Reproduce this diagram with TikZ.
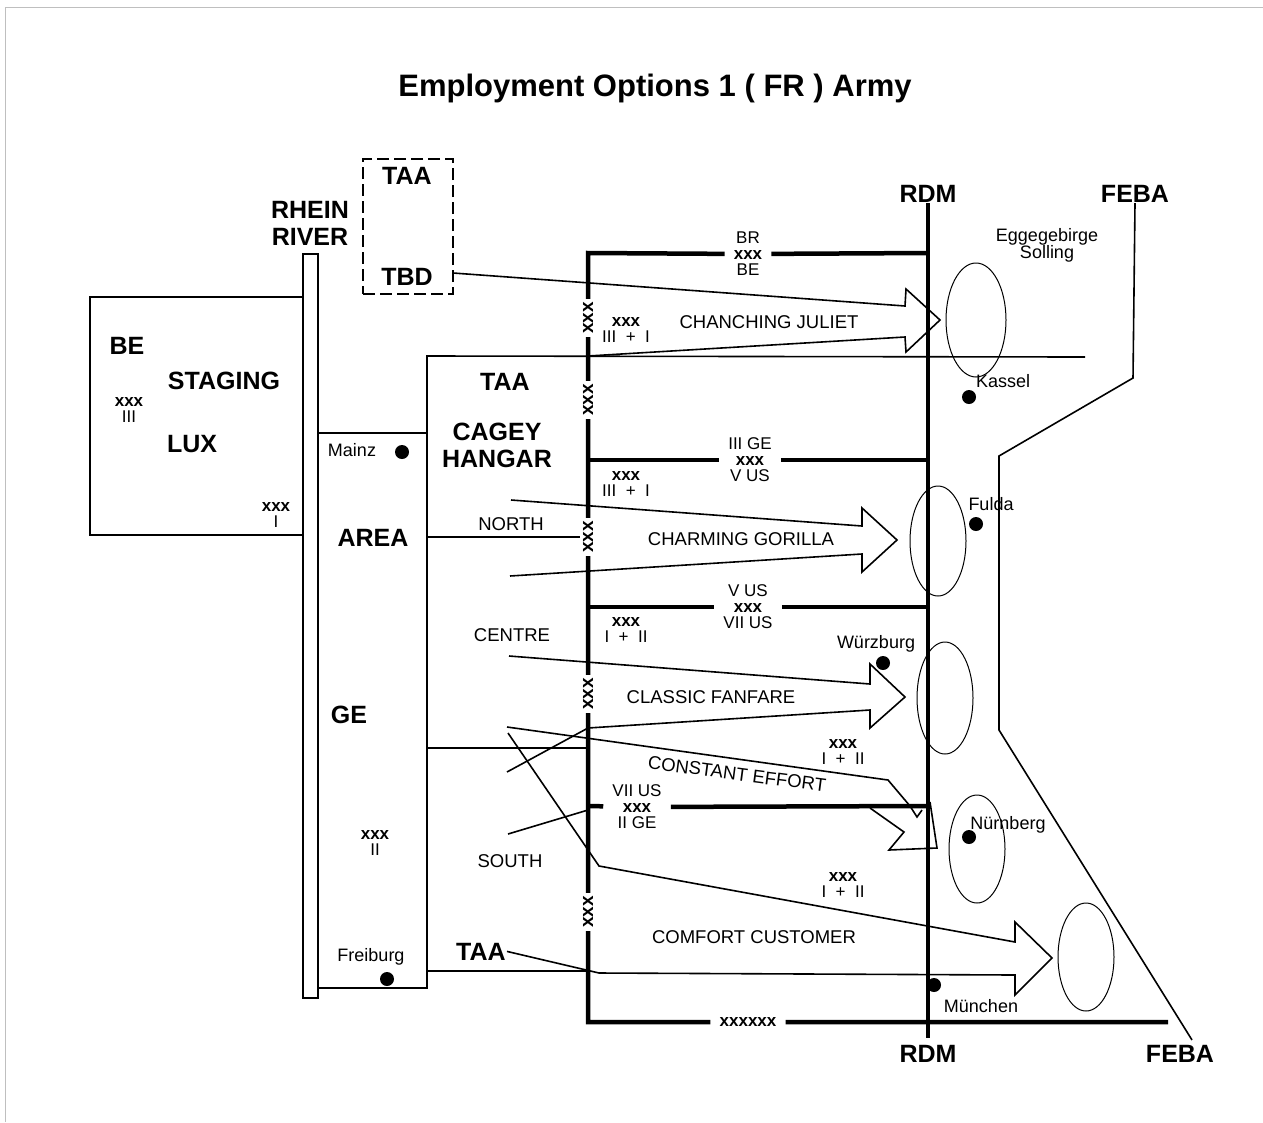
\documentclass[tikz,border=0pt]{standalone}
\usepackage{fontspec}
\setmainfont{Liberation Sans}
\usepackage{tikz}

\begin{document}
\begin{tikzpicture}[x=1pt,y=-1pt,
    every node/.style={inner sep=1pt},
    headline/.style={font=\fontsize{31}{33}\selectfont\bfseries},
    bigtxt/.style={font=\fontsize{25}{27}\selectfont\bfseries,align=center},
    lbl/.style={font=\fontsize{18.5}{20}\selectfont},
    town/.style={font=\fontsize{18}{17}\selectfont,align=center},
    corps/.style={font=\fontsize{17}{16}\selectfont,align=center,inner sep=0pt},
    bound/.style={corps,inner xsep=9pt,inner ysep=0pt},
    xmark/.style={font=\fontsize{19}{19}\selectfont\bfseries,rotate=90,inner sep=3pt},
    front/.style={line width=4.5pt},
    thinl/.style={line width=1.6pt},
    ring/.style={line width=1pt},
    dot/.style={circle,fill,inner sep=0pt,minimum size=14pt}]
  \useasboundingbox (0,0) rectangle (1263,1122);
  \draw[gray!50,line width=1pt] (5,1122) -- (5,7) -- (1263,7);

  \node[headline,anchor=base] (title) at (655,96) {Employment Options 1 ( FR ) Army};

  % rear area
  \node[bigtxt] (rhein) at (310,223) {RHEIN\\RIVER};
  \node[draw,thinl,dash pattern=on 12pt off 5pt,minimum width=90pt,minimum height=135pt] (taabox) at (408,226.5) {};
  \node[bigtxt,anchor=base] (taa1) at (407,184) {TAA};
  \node[bigtxt,anchor=base] (tbd) at (407,285) {TBD};
  \node[bigtxt,anchor=base] (be) at (127,354) {BE};
  \node[bigtxt,anchor=base] (staging) at (224,389) {STAGING};
  \node[bigtxt,anchor=base] (lux) at (192,452) {LUX};
  \node[corps] (c3be) at (129,410) {\textbf{xxx}\\III};
  \node[corps] (c1be) at (276,515) {\textbf{xxx}\\I};
  \node[bigtxt,anchor=base] (area) at (373,546) {AREA};
  \node[bigtxt,anchor=base] (ge) at (349,723) {GE};
  \node[corps] (c2ge) at (375,843) {\textbf{xxx}\\II};
  \node[bigtxt,anchor=base] (taa2) at (505,390) {TAA};
  \node[bigtxt] (cagey) at (497,445) {CAGEY\\HANGAR};
  \node[bigtxt,anchor=base] (taa3) at (481,960) {TAA};
  \node[lbl,anchor=base] (north) at (511,530) {NORTH};
  \node[lbl,anchor=base] (centre) at (512,641) {CENTRE};
  \node[lbl,anchor=base] (south) at (510,867) {SOUTH};

  % towns
  \node[town,anchor=base] (mainz) at (352,456) {Mainz};
  \node[dot] (mainzdot) at (402,452) {};
  \node[town,anchor=base] (freiburg) at (371,961) {Freiburg};
  \node[dot] (freiburgdot) at (387,979) {};
  \node[town] (egge) at (1047,245) {Eggegebirge\\Solling};
  \node[town,anchor=base] (kassel) at (1003,387) {Kassel};
  \node[dot] (kasseldot) at (969,397) {};
  \node[town,anchor=base] (fulda) at (991,510) {Fulda};
  \node[dot] (fuldadot) at (976,524) {};
  \node[town,anchor=base] (wuerzburg) at (876,648) {Würzburg};
  \node[dot] (wuerzburgdot) at (883,663) {};
  \node[town,anchor=base] (nuernberg) at (1008,829) {Nürnberg};
  \node[dot] (nuernbergdot) at (969,837) {};
  \node[town,anchor=base] (muenchen) at (981,1012) {München};
  \node[dot] (muenchendot) at (934,985) {};

  % lines of the front
  \node[bigtxt,anchor=base] (rdm1) at (928,202) {RDM};
  \node[bigtxt,anchor=base] (rdm2) at (928,1062) {RDM};
  \node[bigtxt,anchor=base] (feba1) at (1135,202) {FEBA};
  \node[bigtxt,anchor=base] (feba2) at (1180,1062) {FEBA};

  % corps boundaries
  \node[bound] (b1) at (748,254) {BR\\\textbf{xxx}\\BE};
  \node[bound] (b2) at (750,460) {III GE\\\textbf{xxx}\\V US};
  \node[bound] (b3) at (748,607) {V US\\\textbf{xxx}\\VII US};
  \node[bound] (b4) at (637,807) {VII US\\\textbf{xxx}\\II GE};
  \node[bound] (b5) at (748,1022) {\textbf{xxxxxx}};
  \node[xmark] (x1) at (588,318) {xxx};
  \node[xmark] (x2) at (588,400) {xxx};
  \node[xmark] (x3) at (588,537) {xxx};
  \node[xmark] (x4) at (588,694) {xxx};
  \node[xmark] (x5) at (588,912) {xxx};
  \coordinate (tl) at (588,253);
  \coordinate (bl) at (588,1022);

  \node[corps] (k1) at (626,330) {\textbf{xxx}\\III~~+~~I};
  \node[corps] (k2) at (626,484) {\textbf{xxx}\\III~~+~~I};
  \node[corps] (k3) at (626,630) {\textbf{xxx}\\I~~+~~II};
  \node[corps] (k4) at (843,752) {\textbf{xxx}\\I~~+~~II};
  \node[corps] (k5) at (843,885) {\textbf{xxx}\\I~~+~~II};

  % operation names
  \node[lbl,anchor=base] (juliet) at (769,328) {CHANCHING JULIET};
  \node[lbl,anchor=base] (gorilla) at (741,545) {CHARMING GORILLA};
  \node[lbl,anchor=base] (fanfare) at (711,703) {CLASSIC FANFARE};
  \node[lbl,rotate=-7.5] (effort) at (737,774) {CONSTANT EFFORT};
  \node[lbl,anchor=base] (customer) at (754,943) {COMFORT CUSTOMER};

  % staging areas
  \draw[thinl] (303,254) rectangle (318,998);
  \draw[thinl] (303,297) -- (90,297) -- (90,535) -- (303,535);
  \draw[thinl] (318,433) -- (427,433);
  \draw[thinl] (1085,357) -- (427,356) -- (427,988) -- (318,988);
  \draw[thinl] (427,537) -- (x3);
  \draw[thinl] (427,748) -- (588,748);
  \draw[thinl] (427,971) -- (588,971);

  \draw[front] (928,253) -- (b1) -- (tl) -- (x1) -- (x2) -- (x3) -- (x4) -- (x5) -- (bl) -- (b5) -- (1168,1022);
  \draw[front] (588,460) -- (b2) -- (928,460);
  \draw[front] (588,607) -- (b3) -- (928,607);
  \draw[front] (588,806) -- (b4) -- (928,806);
  \draw[front,shorten >=6pt] (rdm1) -- (rdm2);
  \draw[thinl] (feba1.south) -- (1133,378) -- (999,456) -- (999,730) -- (1192,1040);

  % objectives
  \draw[ring] (976,320) ellipse [x radius=30pt,y radius=57pt];
  \draw[ring] (938,541) ellipse [x radius=28pt,y radius=55pt];
  \draw[ring] (945,698) ellipse [x radius=28pt,y radius=56pt];
  \draw[ring] (977,849) ellipse [x radius=28pt,y radius=54pt];
  \draw[ring] (1086,957) ellipse [x radius=28pt,y radius=54pt];

  % attack arrows
  \draw[thinl] (453,273) -- (905,306) -- (906,289) -- (940,320) -- (906,352) -- (905,337) -- (588,356);
  \draw[thinl] (511,500) -- (862,526) -- (862,508) -- (897,540) -- (862,572) -- (862,554) -- (510,576);
  \draw[thinl] (509,656) -- (870,684) -- (870,664) -- (905,697) -- (870,728) -- (870,710) -- (588,728) -- (507,772);
  \draw[thinl] (507,727) -- (888,780) -- (910,806) -- (917,817) -- (922,810);
  \draw[thinl] (870,808) -- (904,832) -- (889,850) -- (937,848) -- (930,802);
  \draw[thinl] (508,834) -- (588,810);
  \draw[thinl] (508,733) -- (599,866) -- (1015,942) -- (1015,922) -- (1052,958) -- (1015,995) -- (1015,975) -- (599,973) -- (taa3.east);
\end{tikzpicture}
\end{document}
